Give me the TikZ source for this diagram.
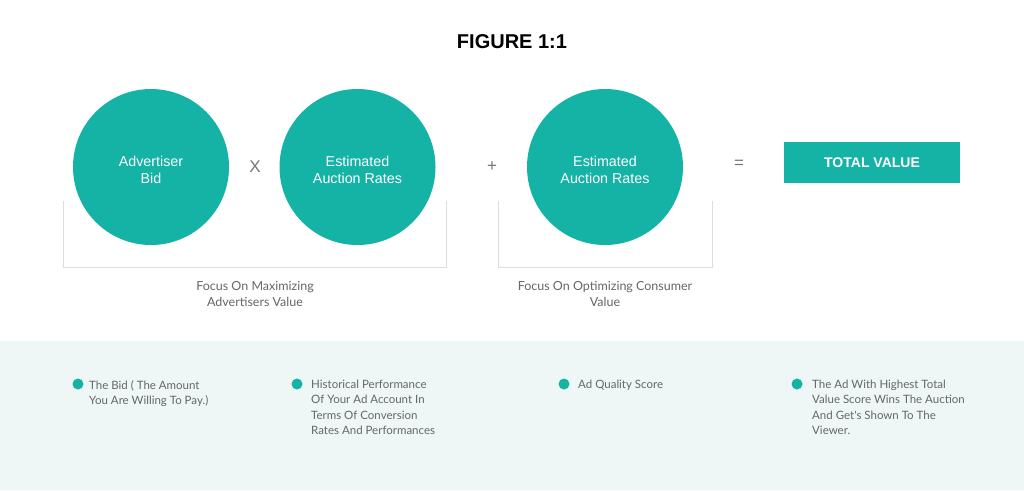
\documentclass[tikz,border=0pt]{standalone}
\usepackage{fontspec}
\setmainfont{Liberation Sans}
\newfontfamily\bodyfont{Lato}
\definecolor{teal1}{HTML}{14B3A6}
\definecolor{band}{HTML}{EFF6F6}
\definecolor{txtgray}{HTML}{666666}
\definecolor{opgray}{HTML}{777777}
\definecolor{brk}{HTML}{DDDDDD}
\begin{document}
\begin{tikzpicture}[x=1pt,y=-1pt,
  bubble/.style={circle,fill=teal1,minimum size=156pt,inner sep=0pt},
  bubbletext/.style={text=white,align=center,font=\fontsize{14.3}{16.7}\selectfont},
  oper/.style={text=opgray,font=\fontsize{17}{17}\selectfont},
  caption/.style={text=txtgray,align=center,font=\bodyfont\fontsize{12.5}{16.7}\selectfont},
  bullettext/.style={text=txtgray,align=left,anchor=north west,inner sep=0pt,font=\bodyfont\fontsize{11.5}{15.2}\selectfont},
  dot/.style={circle,fill=teal1,minimum size=11pt,inner sep=0pt},
  bracket/.style={draw=brk,line width=0.8pt}]
\useasboundingbox (0,0) rectangle (1024,490);
\fill[white] (0,0) rectangle (1024,341);
\fill[band] (0,341) rectangle (1024,490);
\node[font=\bfseries\fontsize{20}{20}\selectfont] (title) at (512,42) {FIGURE 1:1};
% brackets
\coordinate (b1a) at (63,201); \coordinate (b1b) at (63,267);
\coordinate (b1c) at (446,267); \coordinate (b1d) at (446,201);
\draw[bracket] (b1a) -- (b1b) -- (b1c) -- (b1d);
\coordinate (b2a) at (498,201); \coordinate (b2b) at (498,267);
\coordinate (b2c) at (712,267); \coordinate (b2d) at (712,201);
\draw[bracket] (b2a) -- (b2b) -- (b2c) -- (b2d);
% circles
\node[bubble] (c1) at (151,167) {};
\node[bubble] (c2) at (357.5,167) {};
\node[bubble] (c3) at (605,167) {};
\node[bubbletext] (l1) at ([yshift=-3pt]c1.center) {Advertiser\\Bid};
\node[bubbletext] (l2) at ([yshift=-3pt]c2.center) {Estimated\\Auction Rates};
\node[bubbletext] (l3) at ([yshift=-3pt]c3.center) {Estimated\\Auction Rates};
\node[oper] (times) at (255,167) {X};
\node[oper] (plus) at (492,167) {+};
\node[oper] (eq) at (739,164) {=};
\node[fill=teal1,minimum width=176pt,minimum height=41pt,inner sep=0pt,text=white,font=\bfseries\fontsize{14}{14}\selectfont] (total) at (872,162.5) {TOTAL VALUE};
% captions
\node[caption] (cap1) at (255,294) {Focus On Maximizing\\Advertisers Value};
\node[caption] (cap2) at (605,294) {Focus On Optimizing Consumer\\Value};
% bullets
\node[dot] (d1) at (78,384) {};
\node[bullettext] (t1) at (89,380) {The Bid ( The Amount\\You Are Willing To Pay.)};
\node[dot] (d2) at (297,384) {};
\node[bullettext] (t2) at (311,380) {Historical Performance\\Of Your Ad Account In\\Terms Of Conversion\\Rates And Performances};
\node[dot] (d3) at (564,384) {};
\node[bullettext] (t3) at (578,380) {Ad Quality Score};
\node[dot] (d4) at (797,384) {};
\node[bullettext] (t4) at (812,380) {The Ad With Highest Total\\Value Score Wins The Auction\\And Get's Shown To The\\Viewer.};
\end{tikzpicture}
\end{document}
